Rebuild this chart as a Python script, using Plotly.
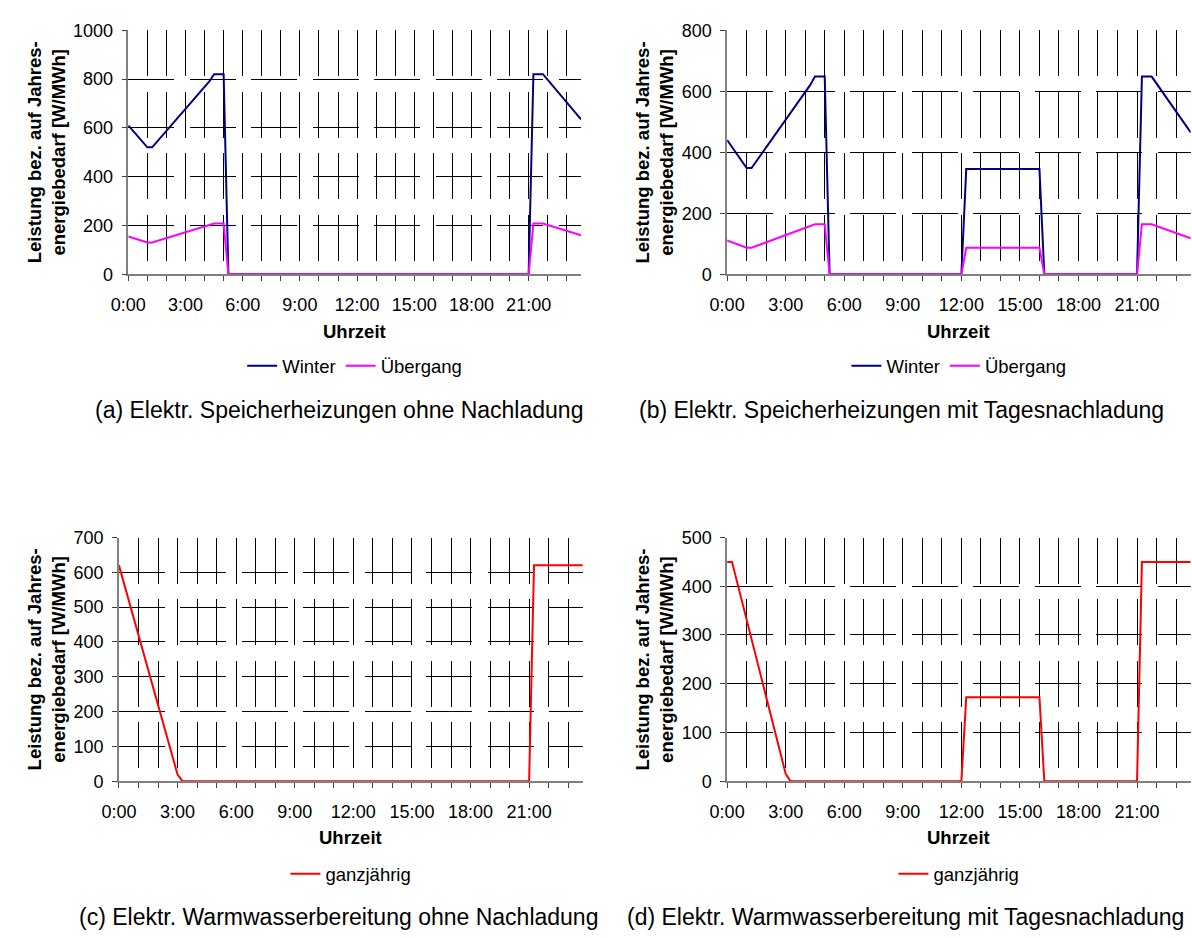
import plotly.graph_objects as go

# ---------------- data ----------------
# (a) Elektr. Speicherheizungen ohne Nachladung
a_winter_t = ["0:00", "1:00", "1:15", "4:15", "4:30", "5:00", "5:15", "21:00", "21:15", "21:45", "23:45"]
a_winter_v = [610, 520, 520, 790, 820, 820, 0, 0, 820, 820, 635]
a_ueb_t = ["0:00", "1:00", "1:15", "4:30", "5:00", "5:15", "21:00", "21:15", "21:45", "23:45"]
a_ueb_v = [155, 130, 130, 208, 208, 0, 0, 208, 208, 160]

# (b) Elektr. Speicherheizungen mit Tagesnachladung
b_winter_t = ["0:00", "1:00", "1:15", "4:15", "4:30", "5:00", "5:15", "12:00", "12:15", "16:00", "16:15",
              "21:00", "21:15", "21:45", "23:45"]
b_winter_v = [440, 348, 348, 620, 648, 648, 0, 0, 345, 345, 0, 0, 648, 648, 465]
b_ueb_t = ["0:00", "1:00", "1:15", "4:30", "5:00", "5:15", "12:00", "12:15", "16:00", "16:15",
           "21:00", "21:15", "21:45", "23:45"]
b_ueb_v = [111, 87, 87, 164, 164, 0, 0, 87, 87, 0, 0, 164, 164, 118]

# (c) Elektr. Warmwasserbereitung ohne Nachladung
c_ganz_t = ["0:00", "3:00", "3:15", "21:00", "21:15", "23:45"]
c_ganz_v = [620, 19, 0, 0, 620, 620]

# (d) Elektr. Warmwasserbereitung mit Tagesnachladung
d_ganz_t = ["0:00", "0:15", "3:00", "3:15", "12:00", "12:15", "16:00", "16:15", "21:00", "21:15", "23:45"]
d_ganz_v = [450, 450, 15, 0, 0, 172, 172, 0, 0, 450, 450]

hour_ticks = list(range(24))
hour_labels = [f"{h}:00" if h % 3 == 0 else "" for h in hour_ticks]

y_title = "Leistung bez. auf Jahres-<br>energiebedarf [W/MWh]"
x_title = "Uhrzeit"
captions = ["(a) Elektr. Speicherheizungen ohne Nachladung",
            "(b) Elektr. Speicherheizungen mit Tagesnachladung",
            "(c) Elektr. Warmwasserbereitung ohne Nachladung",
            "(d) Elektr. Warmwasserbereitung mit Tagesnachladung"]
y_ranges = [(0, 1000, 200), (0, 800, 200), (0, 700, 100), (0, 500, 100)]

COL_WINTER = "#000080"
COL_UEB = "#FF00FF"
COL_GANZ = "#FF0000"


def to_h(s):
    h, m = s.split(":")
    return int(h) + int(m) / 60.0


W, H = 1192, 938
FONT = "Liberation Sans, Arial, sans-serif"

# panel geometry in pixels (x0, x1, ytop, ybottom)
panels = [(112, 571.7, 20.7, 270), (720, 1190.7, 20.7, 270),
          (102.5, 573.5, 539, 788), (720, 1190.7, 539, 788)]
title_cx = [28.5, 646, 28.5, 646]
caption_cx = [326, 897, 325, 901]

fig = go.Figure()

series = [
    [("Winter", a_winter_t, a_winter_v, COL_WINTER), ("Übergang", a_ueb_t, a_ueb_v, COL_UEB)],
    [("Winter", b_winter_t, b_winter_v, COL_WINTER), ("Übergang", b_ueb_t, b_ueb_v, COL_UEB)],
    [("ganzjährig", c_ganz_t, c_ganz_v, COL_GANZ)],
    [("ganzjährig", d_ganz_t, d_ganz_v, COL_GANZ)],
]

DASH = "46px,15.5px"
layout = dict(width=W, height=H, margin=dict(l=0, r=0, t=0, b=0),
              paper_bgcolor="white", plot_bgcolor="white",
              font=dict(family=FONT, color="black"), annotations=[])

for i, (px0, px1, pyt, pyb) in enumerate(panels):
    n = i + 1
    xa = "xaxis" if n == 1 else f"xaxis{n}"
    ya = "yaxis" if n == 1 else f"yaxis{n}"
    xr = "x" if n == 1 else f"x{n}"
    yr = "y" if n == 1 else f"y{n}"
    lg = "legend" if n == 1 else f"legend{n}"
    for name, t, v, col in series[i]:
        fig.add_trace(go.Scatter(x=[to_h(s) for s in t], y=v, mode="lines", name=name,
                                 line=dict(color=col, width=2), xaxis=xr, yaxis=yr,
                                 legend=lg))
    y0, y1, dt = y_ranges[i]
    layout[xa] = dict(domain=[px0 / W, px1 / W], anchor=yr, range=[0, 23.75],
                      tickmode="array", tickvals=hour_ticks, ticktext=hour_labels,
                      showgrid=True, gridcolor="#000000", gridwidth=1, griddash=DASH,
                      showline=True, linecolor="#808080", linewidth=1.5,
                      ticks="outside", ticklen=5, tickcolor="#404040", tickwidth=1,
                      tickfont=dict(size=18), ticklabelstandoff=8, zeroline=False,
                      fixedrange=True)
    layout[ya] = dict(domain=[1 - pyb / H, 1 - pyt / H], anchor=xr, range=[y0, y1],
                      dtick=dt, tick0=0,
                      showgrid=True, gridcolor="#000000", gridwidth=1, griddash=DASH,
                      showline=True, linecolor="#808080", linewidth=1.5,
                      ticks="outside", ticklen=5, tickcolor="#404040", tickwidth=1,
                      tickfont=dict(size=18), ticklabelstandoff=5, zeroline=False,
                      fixedrange=True)
    cx = (px0 + px1) / 2
    is_top = i < 2
    y_uhr = 328 if is_top else 846
    y_leg = 364 if is_top else 883
    y_cap = 409 if is_top else 927
    layout[lg] = dict(orientation="h", x=cx / W, xanchor="center", y=1 - y_leg / H,
                      yanchor="middle", font=dict(size=18.5), bgcolor="rgba(0,0,0,0)",
                      itemwidth=30, tracegroupgap=0)
    layout["annotations"] += [
        dict(text=f"<b>{y_title}</b>", x=title_cx[i] / W, y=1 - ((pyt + pyb) / 2) / H,
             xref="paper", yref="paper", textangle=-90, showarrow=False,
             font=dict(size=18.5), xanchor="center", yanchor="middle"),
        dict(text=f"<b>{x_title}</b>", x=cx / W, y=1 - y_uhr / H, xref="paper", yref="paper",
             showarrow=False, font=dict(size=18.5), xanchor="center", yanchor="middle"),
        dict(text=captions[i], x=caption_cx[i] / W, y=1 - y_cap / H,
             xref="paper", yref="paper", showarrow=False, font=dict(size=23),
             xanchor="center", yanchor="middle"),
    ]

fig.update_layout(**layout)
fig.write_html("out.html", config={"displayModeBar": False},
               post_script="document.body.style.margin='0';document.body.style.overflow='hidden';")
